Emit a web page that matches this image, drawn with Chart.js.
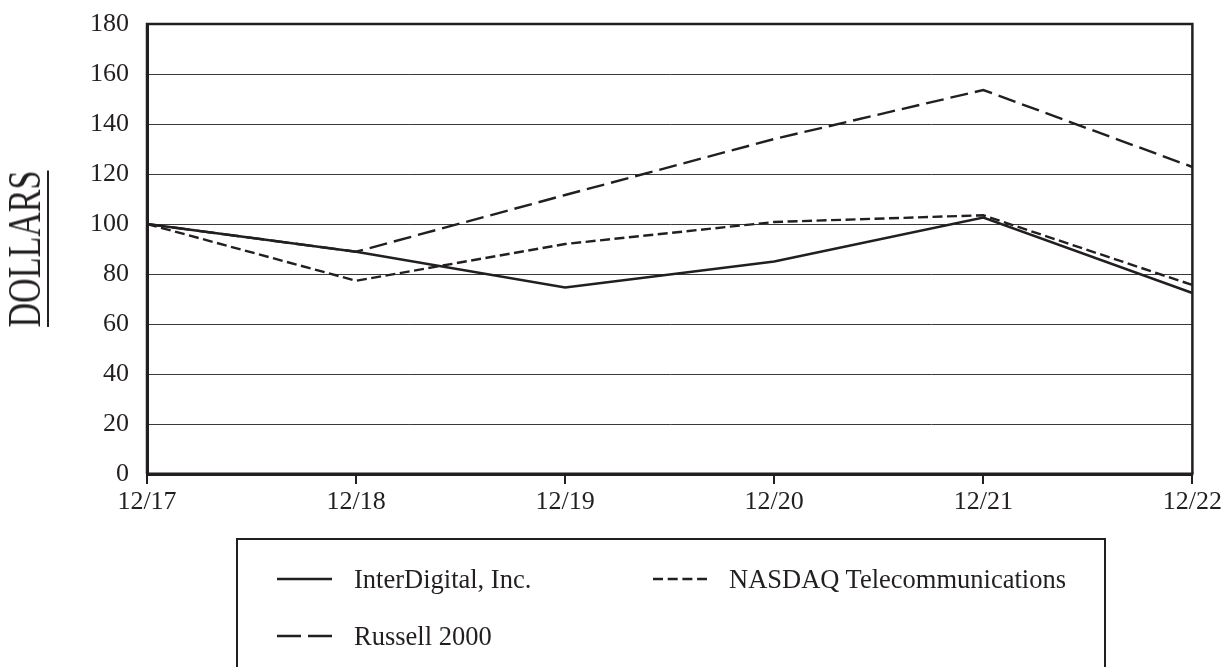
<!DOCTYPE html>
<html>
<head>
<meta charset="utf-8">
<script src="https://cdn.jsdelivr.net/npm/chart.js@4/dist/chart.umd.min.js"></script>
<style>
  html, body { margin: 0; padding: 0; background: #fff; }
  #wrap { position: relative; width: 1225px; height: 667px; overflow: hidden; }
  #c { position: absolute; left: 0; top: 0; }
  #ylabel {
    position: absolute; left: 25px; top: 249px;
    font-family: "Liberation Serif", serif; font-size: 46px; color: #231f20;
    white-space: nowrap; line-height: 1;
    transform: translate(-50%, -50%) rotate(-90deg) scaleX(0.74);
    text-decoration: underline; text-decoration-thickness: 2px; text-underline-offset: 7px;
  }
  #legend {
    position: absolute; left: 236px; top: 538px; width: 870px; height: 200px;
    border: 2px solid #231f20; box-sizing: border-box;
    font-family: "Liberation Serif", serif; font-size: 26.5px; color: #231f20;
  }
  .item { position: absolute; display: flex; align-items: center; height: 30px; white-space: nowrap; }
  .item svg { margin-right: 22px; }
</style>
</head>
<body>
<div id="wrap">
  <canvas id="c" width="1225" height="667"></canvas>
  <div id="ylabel">DOLLARS</div>
  <div id="legend"></div>
</div>
<script>
const categories = ['12/17', '12/18', '12/19', '12/20', '12/21', '12/22'];
const interDigital = [100, 88.9, 74.6, 85.0, 102.6, 72.4];
const nasdaqTelecom = [100, 77.3, 92.0, 100.8, 103.5, 75.6];
const russell2000 = [100, 88.9, 111.6, 134.0, 153.6, 122.8];
const seriesNames = ['InterDigital, Inc.', 'NASDAQ Telecommunications', 'Russell 2000'];
const yMin = 0, yMax = 180, yStep = 20;

const ink = '#231f20';
const dashes = [[], [10, 4.5], [18, 7]];
const legendDash = [[], [10, 4.7], [24, 7]];

const frame = {
  id: 'frame',
  afterDraw(chart) {
    const { ctx, chartArea: a } = chart;
    ctx.save();
    ctx.strokeStyle = ink;
    ctx.lineWidth = 2.5;
    ctx.beginPath();
    ctx.moveTo(a.left, a.bottom);
    ctx.lineTo(a.left, a.top);
    ctx.lineTo(a.right, a.top);
    ctx.lineTo(a.right, a.bottom);
    ctx.stroke();
    ctx.lineWidth = 3;
    ctx.beginPath();
    ctx.moveTo(a.left - 1, a.bottom);
    ctx.lineTo(a.right + 1, a.bottom);
    ctx.stroke();
    ctx.restore();
  }
};

new Chart(document.getElementById('c'), {
  type: 'line',
  data: {
    labels: categories,
    datasets: [interDigital, nasdaqTelecom, russell2000].map((d, i) => ({
      label: seriesNames[i],
      data: d,
      borderColor: ink,
      borderWidth: 2.4,
      borderDash: dashes[i],
      pointRadius: 0,
      tension: 0,
      fill: false
    }))
  },
  options: {
    responsive: false,
    animation: false,
    devicePixelRatio: 1,
    layout: { padding: { left: 0, top: 24, right: 31, bottom: 0 } },
    plugins: { legend: { display: false }, tooltip: { enabled: false } },
    scales: {
      x: {
        offset: false,
        grid: { drawOnChartArea: false, drawTicks: true, tickLength: 10, color: ink, lineWidth: 2 },
        border: { display: true, color: ink, width: 3 },
        ticks: { color: ink, padding: 3, maxRotation: 0, font: { family: 'Liberation Serif', size: 26 } },
        afterFit(s) { s.height = 193; }
      },
      y: {
        min: yMin, max: yMax,
        grid: { drawTicks: false, color: '#3a3a3a', lineWidth: 1 },
        border: { display: true, color: ink, width: 3 },
        ticks: { stepSize: yStep, color: ink, padding: 18, font: { family: 'Liberation Serif', size: 26 } },
        afterFit(s) { s.width = 147; s.paddingTop = 0; s.paddingBottom = 0; }
      }
    }
  },
  plugins: [frame]
});

// HTML legend built from series
const legend = document.getElementById('legend');
const pos = [[39, 24], [415, 24], [39, 81]];
seriesNames.forEach((name, i) => {
  const el = document.createElement('div');
  el.className = 'item';
  el.style.left = pos[i][0] + 'px';
  el.style.top = pos[i][1] + 'px';
  const w = i === 1 ? 54 : 55;
  el.innerHTML = `<svg width="${w}" height="6"><line x1="0" y1="3" x2="${w}" y2="3" stroke="${ink}" stroke-width="2.6" stroke-dasharray="${legendDash[i].join(' ') || 'none'}"/></svg><span>${name}</span>`;
  legend.appendChild(el);
});
</script>
</body>
</html>
